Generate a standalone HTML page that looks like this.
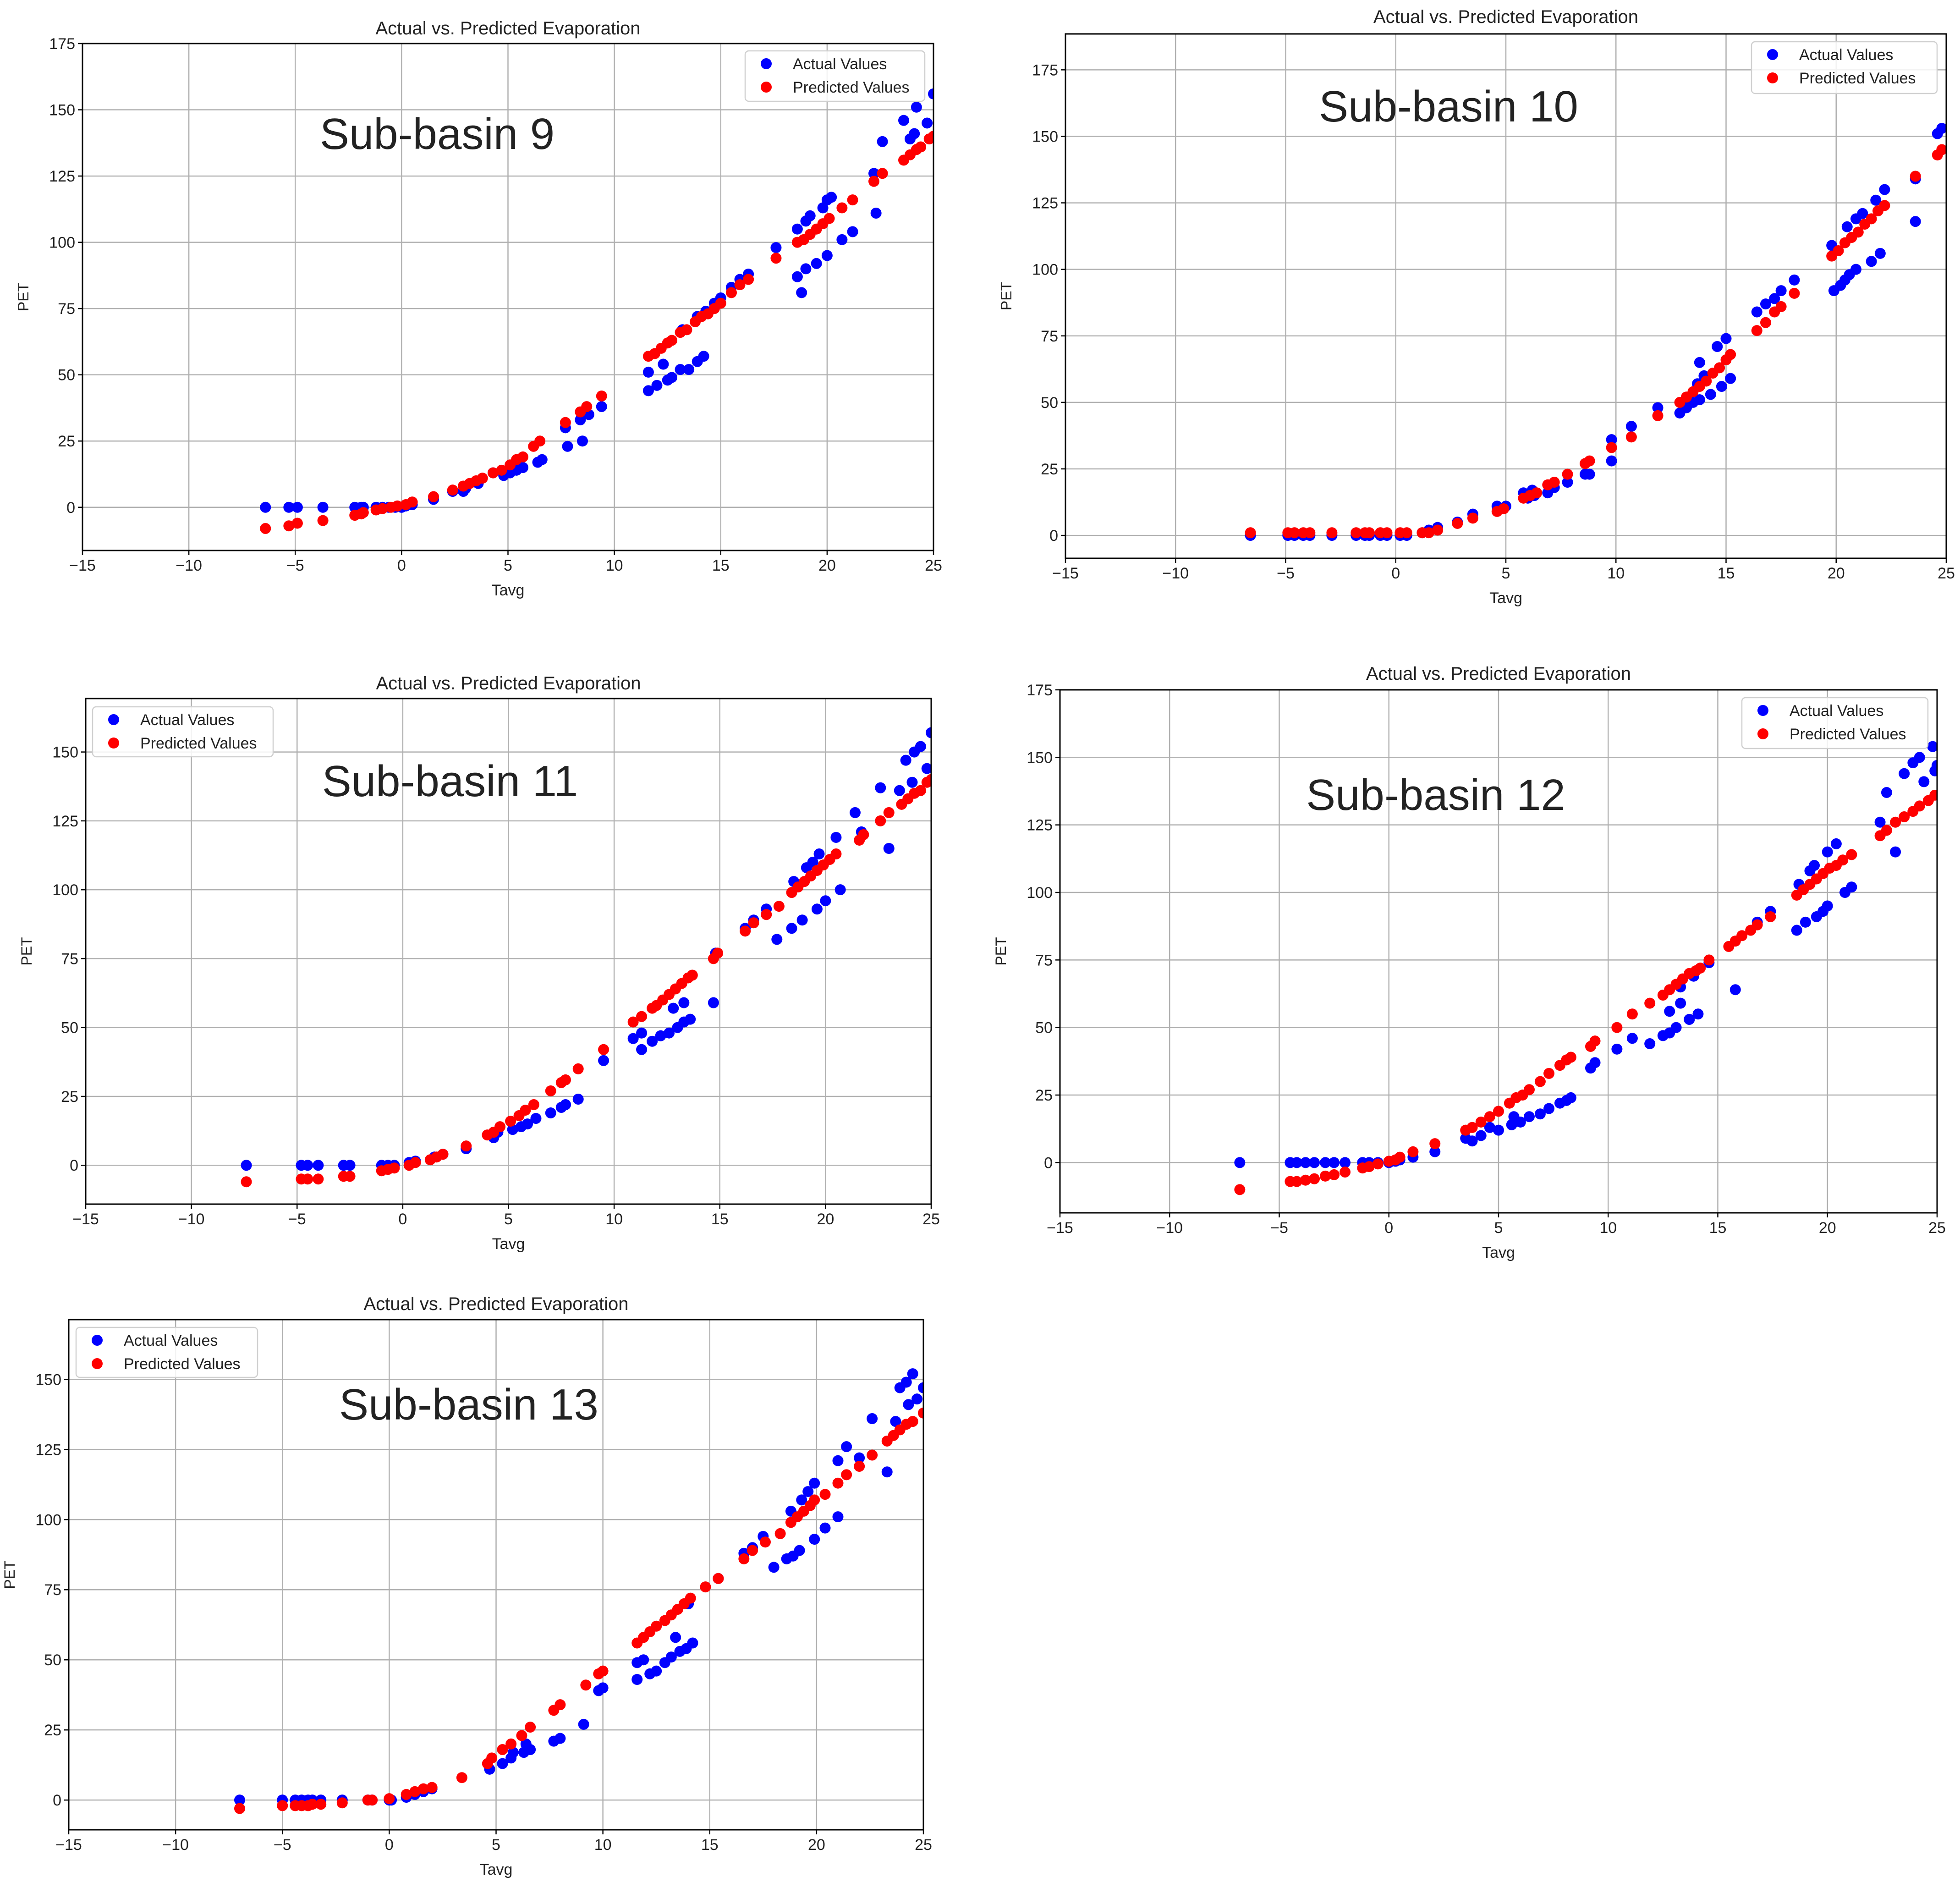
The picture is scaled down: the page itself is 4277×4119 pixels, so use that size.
<!DOCTYPE html>
<html><head><meta charset="utf-8"><style>
html,body{margin:0;padding:0;background:#fff;}
svg{display:block;}
text{font-family:"Liberation Sans",sans-serif;}
</style></head><body>
<svg id="fig" width="4277" height="4119" viewBox="0 0 4277 4119" xmlns="http://www.w3.org/2000/svg"></svg>
<script>
// ---- data: [Tavg, PET] pairs per series ----
const sb9Actual=[[-6.4,0],[-5.3,0],[-4.9,0],[-3.7,0],[-2.2,0],[-1.9,0],[-1.8,0],[-1.2,0],[-0.9,0],[-0.6,0],[-0.3,0],[0,0],[0.2,0.5],[0.5,1],[1.5,3],[2.4,6],[2.9,6],[3.0,7],[3.6,9],[4.3,13],[4.8,12],[5.1,13],[5.4,14],[5.7,15],[6.4,17],[6.6,18],[7.7,30],[7.8,23],[8.4,33],[8.5,25],[8.8,35],[9.4,38],[11.6,44],[11.6,51],[12.0,46],[12.3,54],[12.5,48],[12.7,49],[13.1,52],[13.5,52],[13.9,55],[14.2,57],[13.2,67],[13.9,72],[14.3,74],[14.7,77],[15.0,79],[15.5,83],[15.9,86],[16.3,88],[17.6,98],[18.6,87],[18.6,105],[18.8,81],[19.0,90],[19.0,108],[19.2,110],[19.5,92],[19.8,113],[20.0,95],[20.0,116],[20.2,117],[20.7,101],[21.2,104],[22.2,126],[22.3,111],[22.6,138],[23.6,146],[23.9,139],[24.1,141],[24.2,151],[24.7,145],[25.0,156]];
const sb9Pred=[[-6.4,-8],[-5.3,-7],[-4.9,-6],[-3.7,-5],[-2.2,-3],[-1.9,-2.5],[-1.8,-2],[-1.2,-1],[-0.9,-0.5],[-0.5,0],[-0.2,0.5],[0.2,1],[0.5,2],[1.5,4],[2.4,6.5],[2.9,8],[3.2,9],[3.5,10],[3.8,11],[4.3,13],[4.7,14],[5.1,16],[5.4,18],[5.7,19],[6.2,23],[6.5,25],[7.7,32],[8.4,36],[8.7,38],[9.4,42],[11.6,57],[11.9,58],[12.2,60],[12.5,62],[12.7,63],[13.1,66],[13.4,67],[13.8,70],[14.1,72],[14.4,73],[14.7,75],[15.0,77],[15.5,81],[15.9,84],[16.3,86],[17.6,94],[18.6,100],[18.9,101],[19.2,103],[19.5,105],[19.8,107],[20.1,109],[20.7,113],[21.2,116],[22.2,123],[22.6,126],[23.6,131],[23.9,133],[24.2,135],[24.4,136],[24.8,139],[25.0,140]];
const sb10Actual=[[-6.6,0],[-4.9,0],[-4.6,0],[-4.2,0],[-3.9,0],[-2.9,0],[-1.8,0],[-1.4,0],[-1.2,0],[-0.7,0],[-0.4,0],[0.2,0],[0.5,0],[1.2,1],[1.5,2],[1.9,3],[2.8,5],[3.5,8],[4.6,11],[5.0,11],[5.8,16],[6.0,14],[6.2,17],[6.3,15],[6.9,16],[7.2,18],[7.8,20],[8.6,23],[8.8,23],[9.8,28],[9.8,36],[10.7,41],[11.9,48],[12.9,46],[13.2,48],[13.5,50],[13.8,51],[13.8,65],[14.0,60],[14.3,53],[14.6,71],[14.8,56],[15.0,74],[15.2,59],[13.7,57],[16.4,84],[16.8,87],[17.2,89],[17.5,92],[18.1,96],[19.8,109],[19.9,92],[20.2,94],[20.4,96],[20.6,98],[20.9,100],[20.5,116],[20.9,119],[21.2,121],[21.6,103],[21.8,126],[22.0,106],[22.2,130],[23.6,134],[23.6,118],[24.6,151],[24.8,153]];
const sb10Pred=[[-6.6,1],[-4.9,1],[-4.6,1],[-4.2,1],[-3.9,1],[-2.9,1],[-1.8,1],[-1.4,1],[-1.2,1],[-0.7,1],[-0.4,1],[0.2,1],[0.5,1],[1.2,1],[1.5,1],[1.9,2],[2.8,4.5],[3.5,6.5],[4.6,9],[4.9,10],[5.8,14],[6.1,15],[6.4,16],[6.9,19],[7.2,20],[7.8,23],[8.6,27],[8.8,28],[9.8,33],[10.7,37],[11.9,45],[12.9,50],[13.2,52],[13.5,54],[13.8,56],[14.1,58],[14.4,61],[14.7,63],[15.0,66],[15.2,68],[16.4,77],[16.8,80],[17.2,84],[17.5,86],[18.1,91],[19.8,105],[20.1,107],[20.4,110],[20.7,112],[21.0,114],[21.3,117],[21.6,119],[21.9,122],[22.2,124],[23.6,135],[24.6,143],[24.8,145]];
const sb11Actual=[[-7.4,0],[-4.8,0],[-4.5,0],[-4.0,0],[-2.8,0],[-2.5,0],[-1.0,0],[-0.7,0],[-0.4,0],[0.3,1],[0.6,1.5],[1.5,3],[1.9,4],[3.0,6],[4.3,10],[4.5,12],[5.2,13],[5.6,14],[5.9,15],[6.3,17],[7.0,19],[7.5,21],[7.7,22],[8.3,24],[9.5,38],[10.9,46],[11.3,42],[11.3,48],[11.8,45],[12.2,47],[12.6,48],[12.8,57],[13.0,50],[13.3,52],[13.3,59],[13.6,53],[14.7,59],[14.8,77],[16.2,86],[16.6,89],[17.2,93],[17.7,82],[18.4,86],[18.5,103],[18.9,89],[19.1,108],[19.4,110],[19.7,113],[19.6,93],[20.0,96],[20.5,119],[20.7,100],[21.4,128],[21.7,121],[22.6,137],[23.0,115],[23.5,136],[23.8,147],[24.1,139],[24.2,150],[24.5,152],[24.8,144],[25.0,157]];
const sb11Pred=[[-7.4,-6],[-4.8,-5],[-4.5,-5],[-4.0,-5],[-2.8,-4],[-2.5,-4],[-1.0,-2],[-0.7,-1.5],[-0.4,-1],[0.3,0],[0.6,1],[1.3,2],[1.6,3],[1.9,4],[3.0,7],[4.0,11],[4.3,12],[4.6,14],[5.1,16],[5.5,18],[5.8,20],[6.2,22],[7.0,27],[7.5,30],[7.7,31],[8.3,35],[9.5,42],[10.9,52],[11.3,54],[11.8,57],[12.0,58],[12.3,60],[12.6,62],[12.9,64],[13.2,66],[13.5,68],[13.7,69],[14.7,75],[14.9,77],[16.2,85],[16.6,88],[17.2,91],[17.8,94],[18.4,99],[18.7,101],[19.0,103],[19.3,105],[19.6,107],[19.9,109],[20.2,111],[20.5,113],[21.6,118],[21.8,120],[22.6,125],[23.0,128],[23.6,131],[23.9,133],[24.2,135],[24.5,136],[24.8,139],[25.0,140]];
const sb12Actual=[[-6.8,0],[-4.5,0],[-4.2,0],[-3.8,0],[-3.4,0],[-2.9,0],[-2.5,0],[-2.0,0],[-1.2,0],[-0.9,0],[-0.5,0],[0,0],[0.3,0.5],[0.5,1],[1.1,2],[2.1,4],[3.5,9],[3.8,8],[4.2,10],[4.6,13],[5.0,12],[5.6,14],[5.7,17],[6.0,15],[6.4,17],[6.9,18],[7.3,20],[7.8,22],[8.1,23],[8.3,24],[9.2,35],[9.4,37],[10.4,42],[11.1,46],[11.9,44],[12.5,47],[12.8,48],[12.8,56],[13.1,50],[13.3,65],[13.3,59],[13.7,53],[13.9,69],[14.1,55],[14.6,74],[15.8,64],[16.8,89],[17.4,93],[18.6,86],[18.7,103],[19.0,89],[19.2,108],[19.4,110],[19.5,91],[19.8,93],[20.0,95],[20.0,115],[20.4,118],[20.8,100],[21.1,102],[22.4,126],[22.7,137],[23.1,115],[23.5,144],[23.9,148],[24.2,150],[24.4,141],[24.8,154],[24.9,145],[25.0,147]];
const sb12Pred=[[-6.8,-10],[-4.5,-7],[-4.2,-7],[-3.8,-6.5],[-3.4,-6],[-2.9,-5],[-2.5,-4.5],[-2.0,-3.5],[-1.2,-2],[-0.9,-1.5],[-0.5,-0.5],[0,0.5],[0.3,1],[0.5,2],[1.1,4],[2.1,7],[3.5,12],[3.8,13],[4.2,15],[4.6,17],[5.0,19],[5.5,22],[5.8,24],[6.1,25],[6.4,27],[6.9,30],[7.3,33],[7.8,36],[8.1,38],[8.3,39],[9.2,43],[9.4,45],[10.4,50],[11.1,55],[11.9,59],[12.5,62],[12.8,64],[13.1,66],[13.4,68],[13.7,70],[14.0,71],[14.2,72],[14.6,75],[15.5,80],[15.8,82],[16.1,84],[16.5,86],[16.8,88],[17.4,91],[18.6,99],[18.9,101],[19.2,103],[19.5,105],[19.8,107],[20.1,109],[20.4,110],[20.7,112],[21.1,114],[22.4,121],[22.7,123],[23.1,126],[23.5,128],[23.9,130],[24.2,132],[24.6,134],[24.9,136]];
const sb13Actual=[[-7.0,0],[-5.0,0],[-4.4,0],[-4.1,0],[-3.8,0],[-3.6,0],[-3.2,0],[-2.2,0],[-1.0,0],[-0.8,0],[0,0],[0.1,0],[0.8,1],[1.2,2],[1.6,3],[2.0,4],[4.7,11],[5.3,13],[5.7,15],[5.8,17],[6.3,17],[6.4,20],[6.6,18],[7.7,21],[8.0,22],[9.1,27],[9.8,39],[10.0,40],[11.6,43],[11.6,49],[11.9,50],[12.2,45],[12.5,46],[12.9,49],[13.2,51],[13.4,58],[13.6,53],[13.9,54],[14.2,56],[14.0,70],[15.4,79],[16.6,88],[17.0,90],[17.5,94],[18.0,83],[18.6,86],[18.8,103],[18.9,87],[19.2,89],[19.3,107],[19.6,110],[19.9,93],[19.9,113],[20.4,97],[21.0,101],[21.0,121],[21.4,126],[22.0,122],[22.6,136],[23.3,117],[23.7,135],[23.9,147],[24.2,149],[24.5,152],[24.3,141],[24.7,143],[25.0,147]];
const sb13Pred=[[-7.0,-3],[-5.0,-2],[-4.4,-2],[-4.1,-2],[-3.8,-2],[-3.6,-1.5],[-3.2,-1.5],[-2.2,-1],[-1.0,0],[-0.8,0],[0,0.5],[0.8,2],[1.2,3],[1.6,4],[2.0,4.5],[3.4,8],[4.6,13],[4.8,15],[5.3,18],[5.7,20],[6.2,23],[6.6,26],[7.7,32],[8.0,34],[9.2,41],[9.8,45],[10.0,46],[11.6,56],[11.9,58],[12.2,60],[12.5,62],[12.9,64],[13.2,66],[13.5,68],[13.8,70],[14.1,72],[14.8,76],[15.4,79],[16.6,86],[17.0,89],[17.6,92],[18.3,95],[18.8,99],[19.1,101],[19.4,103],[19.7,105],[19.9,107],[20.4,109],[21.0,113],[21.4,116],[22.0,119],[22.6,123],[23.3,128],[23.6,130],[23.9,132],[24.2,134],[24.5,135],[25.0,138]];
const xTicks=[-15,-10,-5,0,5,10,15,20,25];
const yTicks175=[0,25,50,75,100,125,150,175];
const yTicks150=[0,25,50,75,100,125,150];

// ---- layout ----
const panels=[
 {id:9,actual:sb9Actual,pred:sb9Pred,box:[180,95,2037,1201],ymin:-16.3,ymax:175,yt:yTicks175,leg:[1626,111,392,110],lab:[954,293],title:61},
 {id:10,actual:sb10Actual,pred:sb10Pred,box:[2325,74,4247,1218],ymin:-8.6,ymax:188.5,yt:yTicks175,leg:[3822,91,405,113],lab:[3161,233],title:36},
 {id:11,actual:sb11Actual,pred:sb11Pred,box:[187,1524,2032,2627],ymin:-14.1,ymax:169.4,yt:yTicks150,leg:[202,1542,394,109],lab:[982,1705],title:1490},
 {id:12,actual:sb12Actual,pred:sb12Pred,box:[2313,1505,4227,2646],ymin:-18.6,ymax:175,yt:yTicks175,leg:[3801,1522,406,111],lab:[3133,1735],title:1469},
 {id:13,actual:sb13Actual,pred:sb13Pred,box:[150,2879,2015,3992],ymin:-10.6,ymax:171.3,yt:yTicks150,leg:[166,2896,396,109],lab:[1023,3065],title:2844}
];
const NS='http://www.w3.org/2000/svg';
const svg=document.getElementById('fig');
function mk(tag,attrs,parent){const e=document.createElementNS(NS,tag);for(const k in attrs)e.setAttribute(k,attrs[k]);(parent||svg).appendChild(e);return e;}
const defs=mk('defs',{});
panels.forEach(p=>{
  const [L,T,R,B]=p.box;
  const sx=v=>L+(v-(-15))/(25-(-15))*(R-L);
  const sy=v=>B-(v-p.ymin)/(p.ymax-p.ymin)*(B-T);
  const g=mk('g',{});
  
  
  const cp=mk('clipPath',{id:'clip'+p.id},defs);
  mk('rect',{x:L,y:T,width:R-L,height:B-T},cp);
  const grid=mk('g',{},g);
  
  
  xTicks.forEach(t=>{mk('line',{x1:sx(t),x2:sx(t),y1:T,y2:B,stroke:'#b0b0b0','stroke-width':2.5},grid);});
  p.yt.forEach(t=>{mk('line',{x1:L,x2:R,y1:sy(t),y2:sy(t),stroke:'#b0b0b0','stroke-width':2.5},grid);});
  const pts=mk('g',{'clip-path':'url(#clip'+p.id+')'},g);
  p.actual.forEach(d=>{const c=mk('circle',{cx:sx(d[0]),cy:sy(d[1]),r:12,fill:'#0000ff'},pts);
    
    });
  p.pred.forEach(d=>{const c=mk('circle',{cx:sx(d[0]),cy:sy(d[1]),r:12,fill:'#ff0000'},pts);
    
    });
  const fr=mk('rect',{x:L,y:T,width:R-L,height:B-T,fill:'none',stroke:'#000','stroke-width':3},g);
  
  
  xTicks.forEach(t=>{mk('line',{x1:sx(t),x2:sx(t),y1:B,y2:B+10,stroke:'#000','stroke-width':2.5},g);
    const tx=mk('text',{x:sx(t),y:B+44,'font-size':34,'text-anchor':'middle',fill:'#222'},g);
    tx.textContent=(t<0?'\u2212'+(-t):t);
    
    });
  p.yt.forEach(t=>{mk('line',{x1:L-10,x2:L,y1:sy(t),y2:sy(t),stroke:'#000','stroke-width':2.5},g);
    const tx=mk('text',{x:L-16,y:sy(t)+12,'font-size':34,'text-anchor':'end',fill:'#222'},g);
    tx.textContent=t;
    
    });
  const xt=mk('text',{x:(L+R)/2,y:B+98,'font-size':34,'text-anchor':'middle',fill:'#222'},g);
  xt.textContent='Tavg';
  
  
  const yx=L-118, yy=(T+B)/2;
  const yt=mk('text',{x:yx,y:yy,'font-size':32,'text-anchor':'middle',fill:'#222',transform:'rotate(-90 '+yx+' '+yy+')'},g);
  yt.textContent='PET';
  
  
  const ti=mk('text',{x:(L+R)/2,y:p.title+14,'font-size':40,'text-anchor':'middle',fill:'#222'},g);
  ti.textContent='Actual vs. Predicted Evaporation';
  
  
  const an=mk('text',{x:p.lab[0],y:p.lab[1]+32,'font-size':96,'text-anchor':'middle',fill:'#222'},g);
  an.textContent='Sub-basin '+p.id;
  
  
  const [lx,ly,lw,lh]=p.leg;
  const lg=mk('g',{},g);
  
  
  mk('rect',{x:lx,y:ly,width:lw,height:lh,rx:8,fill:'#fff','fill-opacity':0.85,stroke:'#d0d0d0','stroke-width':2.5},lg);
  [['Actual Values','#0000ff',28],['Predicted Values','#ff0000',79]].forEach(e=>{
    const en=mk('g',{},lg);
    
    
    mk('circle',{cx:lx+46,cy:ly+e[2],r:12,fill:e[1]},en);
    const t=mk('text',{x:lx+104,y:ly+e[2]+12,'font-size':34,fill:'#222'},en);
    t.textContent=e[0];
  });
});
</script>
</body></html>
